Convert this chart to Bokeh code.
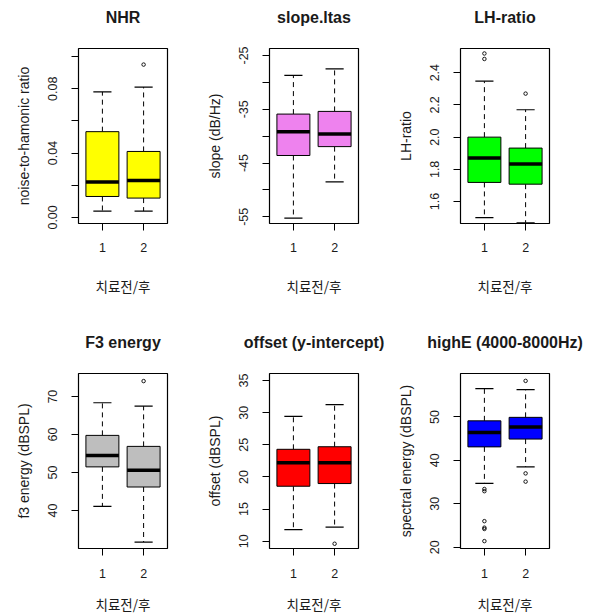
from bokeh.plotting import figure
from bokeh.layouts import gridplot
from bokeh.models import Range1d, FixedTicker, PrintfTickFormatter, Title
from bokeh.embed import file_html
from bokeh.resources import INLINE

GROUPS = [1, 2]
GROUP_LABELS = {1: "1", 2: "2"}
X_LABEL = "치료전/후"

# NHR
nhr_lower = [0.0039, 0.0039]
nhr_q1 = [0.013, 0.012]
nhr_median = [0.022, 0.023]
nhr_q3 = [0.0533, 0.041]
nhr_upper = [0.078, 0.081]
nhr_out_x = [2]
nhr_out_y = [0.095]

# slope.ltas
slope_lower = [-55.25, -48.5]
slope_q1 = [-43.6, -41.95]
slope_median = [-39.2, -39.6]
slope_q3 = [-35.9, -35.4]
slope_upper = [-28.7, -27.5]
slope_out_x = []
slope_out_y = []

# LH-ratio
lh_lower = [1.50, 1.468]
lh_q1 = [1.719, 1.708]
lh_median = [1.871, 1.833]
lh_q3 = [2.0, 1.932]
lh_upper = [2.347, 2.17]
lh_out_x = [1, 1, 2]
lh_out_y = [2.519, 2.485, 2.27]

# F3 energy
f3_lower = [41.1, 31.7]
f3_q1 = [51.5, 46.2]
f3_median = [54.5, 50.6]
f3_q3 = [59.8, 56.9]
f3_upper = [68.4, 67.5]
f3_out_x = [2]
f3_out_y = [74.1]

# offset (y-intercept)
off_lower = [11.8, 12.2]
off_q1 = [18.55, 18.97]
off_median = [22.2, 22.2]
off_q3 = [24.3, 24.7]
off_upper = [29.42, 31.25]
off_out_x = [2]
off_out_y = [9.6]

# highE (4000-8000Hz)
high_lower = [34.7, 38.5]
high_q1 = [43.1, 44.9]
high_median = [46.4, 47.7]
high_q3 = [49.1, 49.9]
high_upper = [56.5, 56.3]
high_out_x = [1, 1, 1, 1, 1, 1, 2, 2, 2]
high_out_y = [33.4, 32.9, 26.0, 24.5, 24.2, 21.4, 58.3, 37.0, 35.1]

FONT = "Liberation Sans"
CJK = "Noto Sans CJK KR"
TXT = "#1a1a1a"

# left / right borders per column (layout only)
COL_BORDERS = [(78, 24), (78, 30), (72, 44)]


def panel(title, ylabel, color, lower, q1, med, q3, upper, out_x, out_y,
          yr, major, minor, fmt, top_row, col):
    bb = 102 if top_row else 65
    bl, br = COL_BORDERS[col]
    p = figure(title=None, frame_width=89, frame_height=175, output_backend="svg",
               toolbar_location=None,
               x_range=Range1d(0.42, 2.58), y_range=Range1d(*yr),
               min_border_left=bl, min_border_right=br,
               min_border_top=48, min_border_bottom=bb)
    # spacer between frame and title
    p.add_layout(Title(text=" ", text_font_size="1px", standoff=19), "above")
    p.add_layout(Title(text=title, align="center", text_font=FONT, text_font_size="16px",
                       text_font_style="bold", text_color=TXT, standoff=2), "above")
    p.grid.visible = False
    p.outline_line_color = "black"
    p.outline_line_width = 1.2
    p.background_fill_color = "white"
    p.border_fill_color = "white"

    hw = 0.4
    cw = 0.22
    xs = GROUPS
    # whiskers
    p.segment(x0=xs, y0=q3, x1=xs, y1=upper, line_color="black", line_width=1, line_dash="5 4")
    p.segment(x0=xs, y0=q1, x1=xs, y1=lower, line_color="black", line_width=1, line_dash="5 4")
    # caps
    p.segment(x0=[x - cw for x in xs], y0=upper, x1=[x + cw for x in xs], y1=upper,
              line_color="black", line_width=1.2)
    p.segment(x0=[x - cw for x in xs], y0=lower, x1=[x + cw for x in xs], y1=lower,
              line_color="black", line_width=1.2)
    # boxes
    p.vbar(x=xs, width=2 * hw, top=q3, bottom=q1, fill_color=color,
           line_color="black", line_width=1)
    # medians
    p.segment(x0=[x - hw for x in xs], y0=med, x1=[x + hw for x in xs], y1=med,
              line_color="black", line_width=3.5)
    # outliers
    if out_x:
        p.scatter(x=out_x, y=out_y, marker="circle", size=3.5, fill_color=None,
                  line_color="black", line_width=0.9)

    # x axis
    xa = p.xaxis[0]
    xa.ticker = FixedTicker(ticks=GROUPS)
    xa.major_label_overrides = GROUP_LABELS
    xa.axis_line_color = None
    xa.major_tick_out = 7
    xa.major_tick_in = 0
    xa.minor_tick_line_color = None
    xa.major_label_text_font = FONT
    xa.major_label_text_font_size = "12.5px"
    xa.major_label_text_color = TXT
    xa.major_label_standoff = 12 if top_row else 13
    xa.axis_label = X_LABEL
    xa.axis_label_text_font = CJK
    xa.axis_label_text_font_size = "13.5px"
    xa.axis_label_text_font_style = "normal"
    xa.axis_label_text_color = TXT
    xa.axis_label_standoff = 21 if top_row else 13

    # y axis
    ya = p.yaxis[0]
    ya.ticker = FixedTicker(ticks=major, minor_ticks=minor)
    ya.formatter = PrintfTickFormatter(format=fmt)
    ya.axis_line_color = None
    ya.major_tick_out = 7
    ya.major_tick_in = 0
    ya.minor_tick_out = 7
    ya.minor_tick_in = 0
    ya.minor_tick_line_color = "black"
    ya.major_label_orientation = "vertical"
    ya.major_label_text_font = FONT
    ya.major_label_text_font_size = "12.5px"
    ya.major_label_text_color = TXT
    ya.major_label_standoff = 14
    ya.axis_label = ylabel
    ya.axis_label_text_font = FONT
    ya.axis_label_text_font_size = "14px"
    ya.axis_label_text_font_style = "normal"
    ya.axis_label_text_color = TXT
    ya.axis_label_standoff = 14
    return p


p1 = panel("NHR", "noise-to-hamonic ratio", "#FFFF00",
           nhr_lower, nhr_q1, nhr_median, nhr_q3, nhr_upper, nhr_out_x, nhr_out_y,
           (-0.0038, 0.105), [0.0, 0.04, 0.08], [0.02, 0.06, 0.10], "%.2f", True, 0)
p2 = panel("slope.ltas", "slope (dB/Hz)", "#EE82EE",
           slope_lower, slope_q1, slope_median, slope_q3, slope_upper, slope_out_x, slope_out_y,
           (-56.25, -23.7), [-55, -45, -35, -25], [-50, -40, -30], "%d", True, 1)
p3 = panel("LH-ratio", "LH-ratio", "#00FF00",
           lh_lower, lh_q1, lh_median, lh_q3, lh_upper, lh_out_x, lh_out_y,
           (1.464, 2.55), [1.6, 1.8, 2.0, 2.2, 2.4], [], "%.1f", True, 2)
p4 = panel("F3 energy", "f3 energy (dBSPL)", "#BEBEBE",
           f3_lower, f3_q1, f3_median, f3_q3, f3_upper, f3_out_x, f3_out_y,
           (30.0, 76.1), [40, 50, 60, 70], [], "%d", False, 0)
p5 = panel("offset (y-intercept)", "offset (dBSPL)", "#FF0000",
           off_lower, off_q1, off_median, off_q3, off_upper, off_out_x, off_out_y,
           (8.86, 36.1), [10, 15, 20, 25, 30, 35], [], "%d", False, 1)
p6 = panel("highE (4000-8000Hz)", "spectral energy (dBSPL)", "#0000FF",
           high_lower, high_q1, high_median, high_q3, high_upper, high_out_x, high_out_y,
           (19.7, 60.0), [20, 30, 40, 50], [], "%d", False, 2)

grid = gridplot([[p1, p2, p3], [p4, p5, p6]], toolbar_location=None)

open("out.html", "w").write(file_html(grid, INLINE))
